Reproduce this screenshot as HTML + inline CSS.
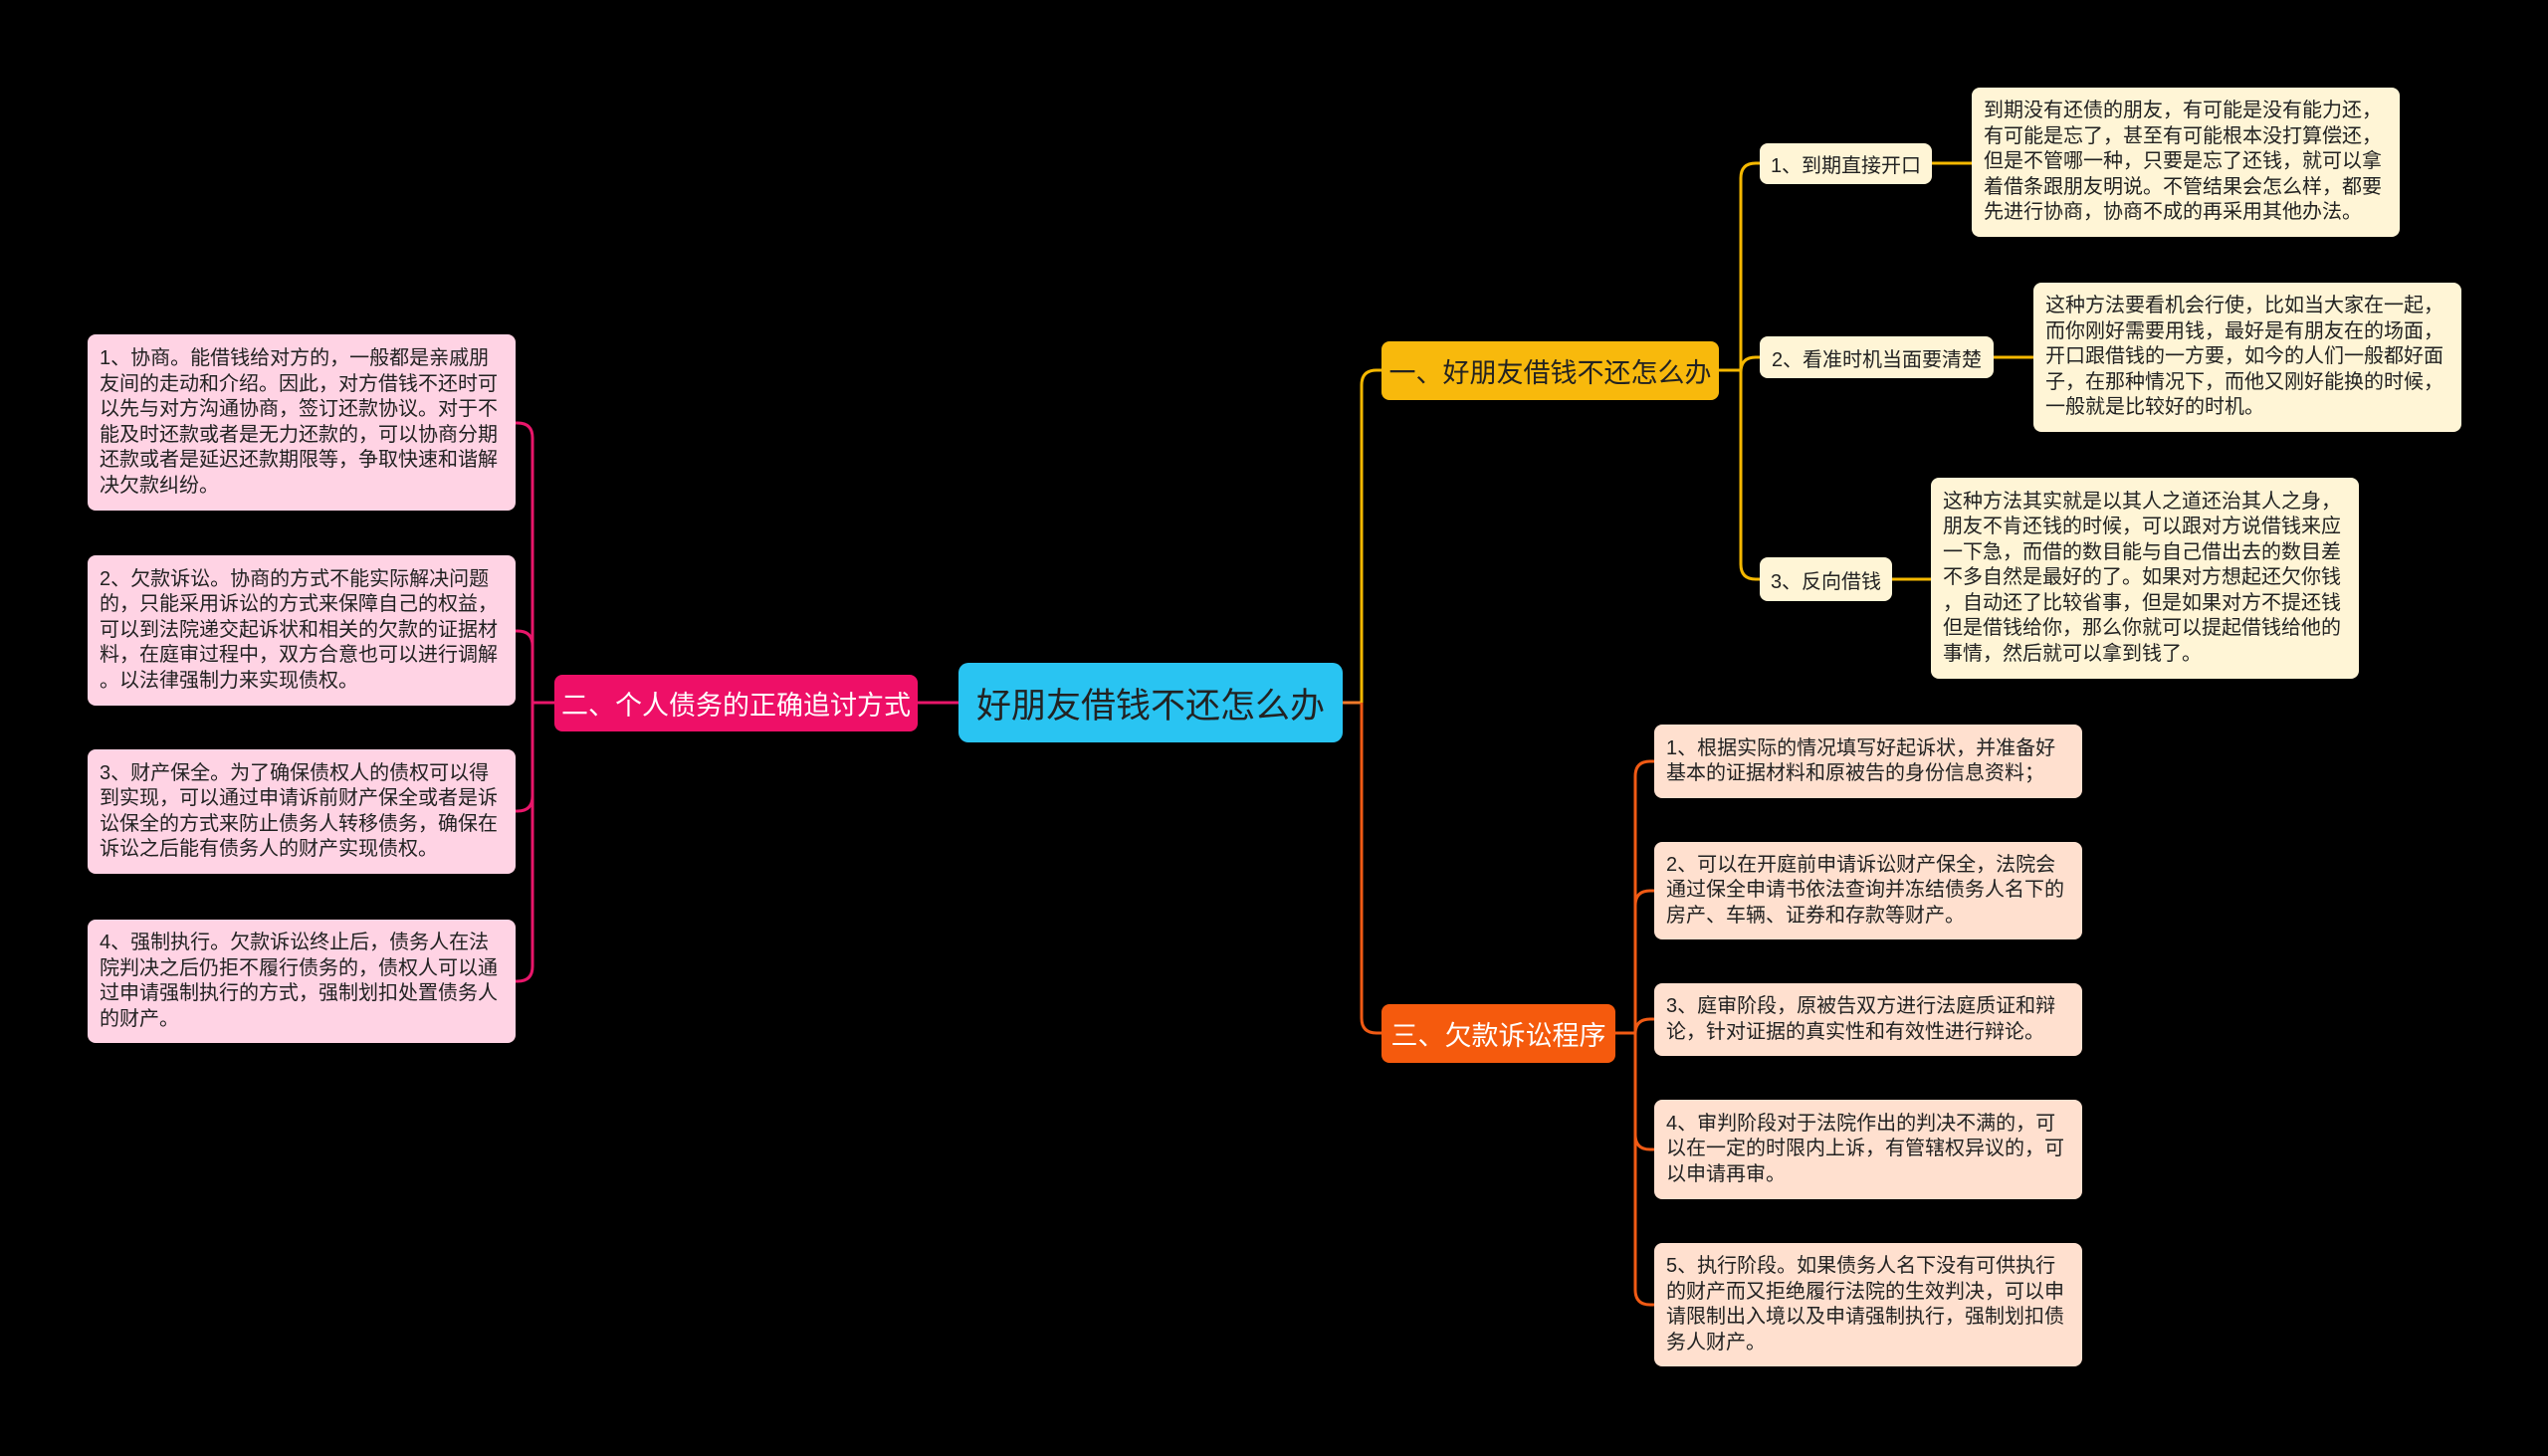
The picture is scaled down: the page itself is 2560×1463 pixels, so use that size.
<!DOCTYPE html>
<html><head><meta charset="utf-8"><style>
html,body{margin:0;padding:0;background:#000;}
body{width:2560px;height:1463px;position:relative;overflow:hidden;font-family:"Liberation Sans","Noto Sans CJK SC",sans-serif;}
.b{position:absolute;box-sizing:border-box;border-radius:8px;display:flex;align-items:center;color:#222;}
.t{font-size:20px;line-height:25.5px;padding:0 12px;white-space:nowrap;}
.y{background:#fff5d6;}
.p{background:#ffd3e4;}
.o{background:#ffe0cf;}
</style></head><body>
<svg width="2560" height="1463" style="position:absolute;left:0;top:0">
<g fill="none" stroke-width="3">
<!-- main -->
<path d="M1349 706 H1368" stroke="#f07a2a"/>
<path d="M1368 706 V387 Q1368 372 1383 372 H1388" stroke="#f5b800"/>
<path d="M1368 706 V1023 Q1368 1038 1383 1038 H1388" stroke="#f05a14"/>
<path d="M963 706 H922" stroke="#e8166a"/>
<!-- yellow -->
<path d="M1727 372 H1749" stroke="#f5b800"/>
<path d="M1749 372 V179 Q1749 164 1764 164 H1768" stroke="#f5b800"/>
<path d="M1749 372 V374 Q1749 359 1764 359 H1768" stroke="#f5b800"/>
<path d="M1749 372 V567 Q1749 582 1764 582 H1768" stroke="#f5b800"/>
<path d="M1941 164 H1981 M2003 359 H2043 M1901 582 H1940" stroke="#f5b800"/>
<!-- pink -->
<path d="M557 706 H535" stroke="#e8166a"/>
<path d="M535 706 V440 Q535 425 520 425 H518 M535 706 V649 Q535 634 520 634 H518 M535 706 V800 Q535 815 520 815 H518 M535 706 V971 Q535 986 520 986 H518" stroke="#e8166a"/>
<!-- orange -->
<path d="M1623 1038 H1643" stroke="#f05a14"/>
<path d="M1643 1038 V780 Q1643 765 1658 765 H1662 M1643 1038 V910 Q1643 895 1658 895 H1662 M1643 1038 V1039 Q1643 1024 1658 1024 H1662 M1643 1038 V1140 Q1643 1155 1658 1155 H1662 M1643 1038 V1296 Q1643 1311 1658 1311 H1662" stroke="#f05a14"/>
</g>
</svg>

<div class="b" style="left:963px;top:666px;width:386px;height:80px;background:#29c4f2;justify-content:center;font-size:35px;color:#222;border-radius:10px">好朋友借钱不还怎么办</div>
<div class="b" style="left:557px;top:678px;width:365px;height:57px;background:#ee0f67;justify-content:center;font-size:27px;color:#fff">二、个人债务的正确追讨方式</div>
<div class="b" style="left:1388px;top:343px;width:339px;height:59px;background:#f8b90c;justify-content:center;font-size:27px;color:#222">一、好朋友借钱不还怎么办</div>
<div class="b" style="left:1388px;top:1009px;width:235px;height:59px;background:#f55a0d;justify-content:center;font-size:27px;color:#fff">三、欠款诉讼程序</div>

<div class="b y" style="left:1768px;top:144px;width:173px;height:41px;justify-content:center;font-size:20px">1、到期直接开口</div>
<div class="b y" style="left:1768px;top:338px;width:235px;height:42px;justify-content:center;font-size:20px">2、看准时机当面要清楚</div>
<div class="b y" style="left:1768px;top:560px;width:133px;height:44px;justify-content:center;font-size:20px">3、反向借钱</div>

<div class="b y t" style="left:1981px;top:88px;width:430px;height:150px">到期没有还债的朋友，有可能是没有能力还，<br>有可能是忘了，甚至有可能根本没打算偿还，<br>但是不管哪一种，只要是忘了还钱，就可以拿<br>着借条跟朋友明说。不管结果会怎么样，都要<br>先进行协商，协商不成的再采用其他办法。</div>
<div class="b y t" style="left:2043px;top:284px;width:430px;height:150px">这种方法要看机会行使，比如当大家在一起，<br>而你刚好需要用钱，最好是有朋友在的场面，<br>开口跟借钱的一方要，如今的人们一般都好面<br>子，在那种情况下，而他又刚好能换的时候，<br>一般就是比较好的时机。</div>
<div class="b y t" style="left:1940px;top:480px;width:430px;height:202px">这种方法其实就是以其人之道还治其人之身，<br>朋友不肯还钱的时候，可以跟对方说借钱来应<br>一下急，而借的数目能与自己借出去的数目差<br>不多自然是最好的了。如果对方想起还欠你钱<br>，自动还了比较省事，但是如果对方不提还钱<br>但是借钱给你，那么你就可以提起借钱给他的<br>事情，然后就可以拿到钱了。</div>

<div class="b p t" style="left:88px;top:336px;width:430px;height:177px">1、协商。能借钱给对方的，一般都是亲戚朋<br>友间的走动和介绍。因此，对方借钱不还时可<br>以先与对方沟通协商，签订还款协议。对于不<br>能及时还款或者是无力还款的，可以协商分期<br>还款或者是延迟还款期限等，争取快速和谐解<br>决欠款纠纷。</div>
<div class="b p t" style="left:88px;top:558px;width:430px;height:151px">2、欠款诉讼。协商的方式不能实际解决问题<br>的，只能采用诉讼的方式来保障自己的权益，<br>可以到法院递交起诉状和相关的欠款的证据材<br>料，在庭审过程中，双方合意也可以进行调解<br>。以法律强制力来实现债权。</div>
<div class="b p t" style="left:88px;top:753px;width:430px;height:125px">3、财产保全。为了确保债权人的债权可以得<br>到实现，可以通过申请诉前财产保全或者是诉<br>讼保全的方式来防止债务人转移债务，确保在<br>诉讼之后能有债务人的财产实现债权。</div>
<div class="b p t" style="left:88px;top:924px;width:430px;height:124px">4、强制执行。欠款诉讼终止后，债务人在法<br>院判决之后仍拒不履行债务的，债权人可以通<br>过申请强制执行的方式，强制划扣处置债务人<br>的财产。</div>

<div class="b o t" style="left:1662px;top:728px;width:430px;height:74px">1、根据实际的情况填写好起诉状，并准备好<br>基本的证据材料和原被告的身份信息资料；</div>
<div class="b o t" style="left:1662px;top:846px;width:430px;height:98px">2、可以在开庭前申请诉讼财产保全，法院会<br>通过保全申请书依法查询并冻结债务人名下的<br>房产、车辆、证券和存款等财产。</div>
<div class="b o t" style="left:1662px;top:988px;width:430px;height:73px">3、庭审阶段，原被告双方进行法庭质证和辩<br>论，针对证据的真实性和有效性进行辩论。</div>
<div class="b o t" style="left:1662px;top:1105px;width:430px;height:100px">4、审判阶段对于法院作出的判决不满的，可<br>以在一定的时限内上诉，有管辖权异议的，可<br>以申请再审。</div>
<div class="b o t" style="left:1662px;top:1249px;width:430px;height:124px">5、执行阶段。如果债务人名下没有可供执行<br>的财产而又拒绝履行法院的生效判决，可以申<br>请限制出入境以及申请强制执行，强制划扣债<br>务人财产。</div>
</body></html>
